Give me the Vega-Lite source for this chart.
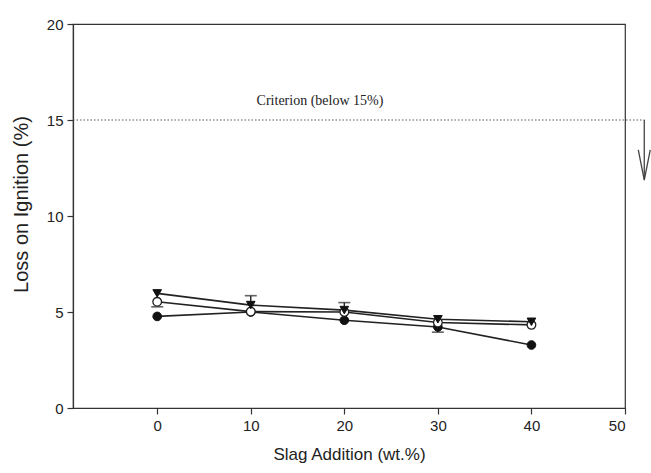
{
  "$schema": "https://vega.github.io/schema/vega-lite/v6.json",
  "width": 552,
  "height": 384,
  "autosize": {"type": "none"},
  "padding": {"left": 73, "top": 24, "right": 26, "bottom": 65},
  "background": "white",
  "config": {
    "view": {"stroke": "#333", "strokeWidth": 1.2},
    "axis": {
      "domainColor": "#333", "tickColor": "#333", "labelColor": "#222", "titleColor": "#222",
      "labelFont": "Liberation Sans", "titleFont": "Liberation Sans",
      "labelFontSize": 15, "titleFontSize": 17, "titleFontWeight": "normal",
      "grid": false, "tickSize": 6, "domainWidth": 1.2, "tickWidth": 1.2
    }
  },
  "datasets": {
    "series": [
      {"slag": 0, "loi": 4.77, "s": "A"}, {"slag": 10, "loi": 5.0, "s": "A"}, {"slag": 20, "loi": 4.57, "s": "A"}, {"slag": 30, "loi": 4.22, "s": "A"}, {"slag": 40, "loi": 3.28, "s": "A"},
      {"slag": 0, "loi": 5.53, "s": "B"}, {"slag": 10, "loi": 5.02, "s": "B"}, {"slag": 20, "loi": 5.0, "s": "B"}, {"slag": 30, "loi": 4.45, "s": "B"}, {"slag": 40, "loi": 4.33, "s": "B"},
      {"slag": 0, "loi": 5.97, "s": "C"}, {"slag": 10, "loi": 5.36, "s": "C"}, {"slag": 20, "loi": 5.1, "s": "C"}, {"slag": 30, "loi": 4.62, "s": "C"}, {"slag": 40, "loi": 4.49, "s": "C"}
    ],
    "errs": [
      {"slag": 0, "lo": 5.27, "hi": 5.53, "cap": 5.27},
      {"slag": 10, "lo": 5.36, "hi": 5.85, "cap": 5.85},
      {"slag": 20, "lo": 5.1, "hi": 5.49, "cap": 5.49},
      {"slag": 30, "lo": 3.95, "hi": 4.22, "cap": 3.95}
    ],
    "criterion": [{"slag": -9, "loi": 15}, {"slag": 52.1, "loi": 15}],
    "arrowShaft": [{"slag": 52.06, "y1": 15, "y2": 11.9}],
    "arrowHead": [{"slag": 51.42, "loi": 13.44, "o": 1}, {"slag": 52.06, "loi": 11.875, "o": 2}, {"slag": 52.7, "loi": 13.44, "o": 3}],
    "label": [{"slag": 17.4, "loi": 16.0, "text": "Criterion (below 15%)"}]
  },
  "layer": [
    {
      "data": {"name": "criterion"},
      "mark": {"type": "line", "stroke": "#555", "strokeDash": [1.5, 2], "strokeWidth": 1.2, "clip": false},
      "encoding": {
        "x": {"field": "slag", "type": "quantitative", "scale": {"domain": [-9, 50], "nice": false, "zero": false},
              "axis": {"values": [0, 10, 20, 30, 40, 50], "title": "Slag Addition (wt.%)", "labelPadding": 4, "titlePadding": 13}},
        "y": {"field": "loi", "type": "quantitative", "scale": {"domain": [0, 20], "nice": false},
              "axis": {"values": [0, 5, 10, 15, 20], "title": "Loss on Ignition (%)", "labelPadding": 4,
                       "titleFontSize": 20, "titleX": -52, "titleY": 180, "titleBaseline": "middle", "titleAngle": 270}}
      }
    },
    {
      "data": {"name": "arrowShaft"},
      "mark": {"type": "rule", "stroke": "#444", "strokeWidth": 1.3, "clip": false},
      "encoding": {
        "x": {"field": "slag", "type": "quantitative"},
        "y": {"field": "y1", "type": "quantitative"},
        "y2": {"field": "y2"}
      }
    },
    {
      "data": {"name": "arrowHead"},
      "mark": {"type": "line", "stroke": "#444", "strokeWidth": 1.3, "clip": false},
      "encoding": {
        "x": {"field": "slag", "type": "quantitative"},
        "y": {"field": "loi", "type": "quantitative"},
        "order": {"field": "o"}
      }
    },
    {
      "data": {"name": "label"},
      "mark": {"type": "text", "font": "Liberation Serif", "fontSize": 14, "color": "#222", "baseline": "middle", "align": "center"},
      "encoding": {
        "x": {"field": "slag", "type": "quantitative"},
        "y": {"field": "loi", "type": "quantitative"},
        "text": {"field": "text"}
      }
    },
    {
      "data": {"name": "series"},
      "mark": {"type": "line", "stroke": "#222", "strokeWidth": 1.6},
      "encoding": {
        "x": {"field": "slag", "type": "quantitative"},
        "y": {"field": "loi", "type": "quantitative"},
        "detail": {"field": "s"}
      }
    },
    {
      "data": {"name": "errs"},
      "mark": {"type": "rule", "stroke": "#222", "strokeWidth": 1.4},
      "encoding": {
        "x": {"field": "slag", "type": "quantitative"},
        "y": {"field": "lo", "type": "quantitative"},
        "y2": {"field": "hi"}
      }
    },
    {
      "data": {"name": "errs"},
      "mark": {"type": "tick", "orient": "horizontal", "color": "#222", "thickness": 1.6, "size": 12},
      "encoding": {
        "x": {"field": "slag", "type": "quantitative"},
        "y": {"field": "cap", "type": "quantitative"}
      }
    },
    {
      "data": {"name": "series"},
      "transform": [{"filter": "datum.s == 'A'"}],
      "mark": {"type": "point", "shape": "circle", "filled": true, "fill": "#111", "stroke": "#111", "strokeWidth": 1, "size": 75, "opacity": 1},
      "encoding": {
        "x": {"field": "slag", "type": "quantitative"},
        "y": {"field": "loi", "type": "quantitative"}
      }
    },
    {
      "data": {"name": "series"},
      "transform": [{"filter": "datum.s == 'B'"}],
      "mark": {"type": "point", "shape": "circle", "filled": true, "fill": "white", "stroke": "#222", "strokeWidth": 1.3, "size": 75, "opacity": 1},
      "encoding": {
        "x": {"field": "slag", "type": "quantitative"},
        "y": {"field": "loi", "type": "quantitative"}
      }
    },
    {
      "data": {"name": "series"},
      "transform": [{"filter": "datum.s == 'C'"}],
      "mark": {"type": "point", "shape": "triangle-down", "filled": true, "fill": "#111", "stroke": "#111", "strokeWidth": 1, "size": 75, "opacity": 1},
      "encoding": {
        "x": {"field": "slag", "type": "quantitative"},
        "y": {"field": "loi", "type": "quantitative"}
      }
    }
  ]
}
